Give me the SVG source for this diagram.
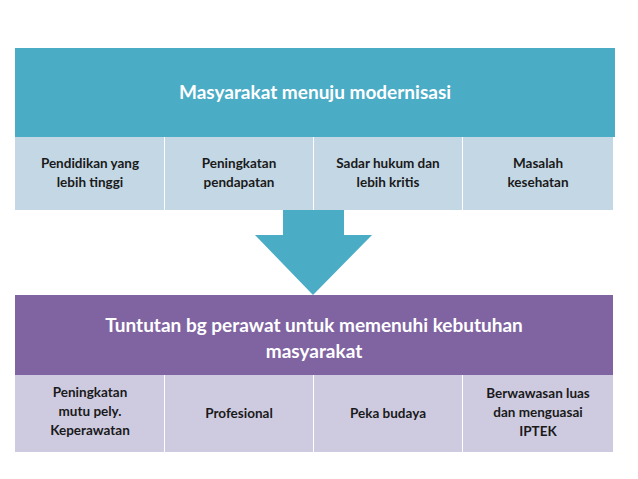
<svg xmlns="http://www.w3.org/2000/svg" width="638" height="479" viewBox="0 0 638 479">
<style>
text{font-family:Lato,"Open Sans","Liberation Sans",sans-serif;font-weight:bold;text-anchor:middle}
.h{fill:#fff;font-size:19px}
.s{fill:#1a1a1a;font-size:13.5px}
.lb{fill:#C4D7E5}
.lp{fill:#CECBE1}
.sh{fill:none;stroke:#d8d8dc;stroke-width:2}
</style>
<rect width="638" height="479" fill="#fff"/>
<g id="top">
<rect x="15" y="48" width="600" height="89" fill="#4BACC6"/>
<text class="h" x="315" y="99">Masyarakat menuju modernisasi</text>
</g>
<g id="t1"><rect class="lb" x="15" y="137" width="149" height="73"/><text class="s" x="90" y="168">Pendidikan yang</text><text class="s" x="90" y="187">lebih tinggi</text></g>
<g id="t2"><rect class="lb" x="165" y="137" width="148" height="73"/><text class="s" x="239" y="168">Peningkatan</text><text class="s" x="239" y="187">pendapatan</text></g>
<g id="t3"><rect class="lb" x="314" y="137" width="148" height="73"/><text class="s" x="388" y="168">Sadar hukum dan</text><text class="s" x="388" y="187">lebih kritis</text></g>
<g id="t4"><rect class="lb" x="463" y="137" width="150" height="73"/><text class="s" x="538" y="168">Masalah</text><text class="s" x="538" y="187">kesehatan</text></g>
<g id="connectors">
<polygon points="283,210 344,210 344,235 372,235 313,295 255,235 283,235" fill="#4BACC6"/>
</g>
<g id="bottom">
<rect x="15" y="295" width="598" height="80" fill="#8064A2"/>
<text class="h" x="314" y="332">Tuntutan bg perawat untuk memenuhi kebutuhan</text>
<text class="h" x="314" y="358">masyarakat</text>
</g>
<g id="b1"><rect class="lp" x="15" y="375" width="149" height="77"/><text class="s" x="90" y="397">Peningkatan</text><text class="s" x="90" y="416">mutu pely.</text><text class="s" x="90" y="435">Keperawatan</text></g>
<g id="b2"><rect class="lp" x="165" y="375" width="148" height="77"/><text class="s" x="239" y="418">Profesional</text></g>
<g id="b3"><rect class="lp" x="314" y="375" width="148" height="77"/><text class="s" x="388" y="418">Peka budaya</text></g>
<g id="b4"><rect class="lp" x="463" y="375" width="150" height="77"/><text class="s" x="538" y="398">Berwawasan luas</text><text class="s" x="538" y="417">dan menguasai</text><text class="s" x="538" y="436">IPTEK</text></g>
</svg>
